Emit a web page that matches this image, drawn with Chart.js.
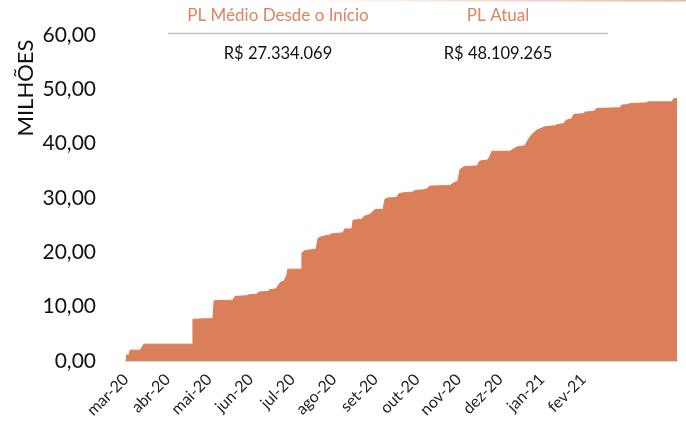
<!DOCTYPE html>
<html>
<head>
<meta charset="utf-8">
<script src="https://cdn.jsdelivr.net/npm/chart.js@4/dist/chart.umd.min.js"></script>
<style>
  html, body { margin: 0; padding: 0; background: #fff; }
  #wrap { width: 686px; height: 425px; position: relative; }
</style>
</head>
<body>
<div id="wrap"><canvas id="chart" width="686" height="425"></canvas></div>
<script>
// month labels on the x axis
const months = ['mar-20','abr-20','mai-20','jun-20','jul-20','ago-20','set-20','out-20','nov-20','dez-20','jan-21','fev-21']

// position in months since mar-20, and PL in millions
const t = [0, 0.07, 0.10, 0.34, 0.43, 1.59, 1.61, 2.09, 2.12, 2.57, 2.62, 2.91, 2.96, 3.15, 3.20, 3.41,
  3.46, 3.61, 3.65, 3.73, 3.80, 3.87, 3.89, 4.21, 4.23, 4.30, 4.57, 4.62, 4.71, 4.90, 4.95, 5.22,
  5.26, 5.43, 5.46, 5.67, 5.72, 5.87, 5.99, 6.18, 6.23, 6.30, 6.51, 6.56, 6.71, 6.90, 6.95, 7.16,
  7.24, 7.31, 7.79, 7.91, 7.98, 8.03, 8.13, 8.44, 8.51, 8.70, 8.75, 8.80, 9.23, 9.40, 9.59, 9.66,
  9.76, 9.88, 10.07, 10.31, 10.36, 10.53, 10.58, 10.72, 10.77, 10.99, 11.03, 11.27, 11.32, 11.88,
  11.92, 12.07, 12.12, 12.50, 12.55, 13.13, 13.17, 13.25]
const pl = [1.1, 1.1, 2.0, 2.0, 3.1, 3.1, 7.7, 7.8, 11.1, 11.2, 11.9, 12.0, 12.2, 12.3, 12.7, 12.8,
  13.1, 13.3, 13.8, 14.6, 14.7, 15.9, 16.9, 16.9, 19.9, 20.3, 20.6, 22.6, 22.9, 23.2, 23.4, 23.6,
  24.3, 24.3, 25.9, 26.1, 26.6, 27.0, 27.9, 27.9, 29.8, 30.0, 30.1, 30.8, 31.0, 31.1, 31.4, 31.5,
  31.7, 32.2, 32.3, 32.9, 33.1, 35.2, 35.8, 35.9, 36.8, 37.0, 37.7, 38.6, 38.6, 39.4, 39.6, 40.6,
  41.7, 42.5, 43.1, 43.3, 43.5, 43.7, 44.3, 44.6, 45.4, 45.5, 45.8, 46.0, 46.5, 46.6,
  47.1, 47.2, 47.4, 47.5, 47.7, 47.7, 48.3, 48.3]

// summary box on top
const headers = ['PL Médio Desde o Início', 'PL Atual']
const summary = ['R$ 27.334.069', 'R$ 48.109.265']

const orange = '#DB7E5A'
const font = 'Lato, "Open Sans", sans-serif'

// draws the axis title and the little table above the plot
const extras = {
  id: 'extras',
  afterDraw(chart) {
    const ctx = chart.ctx

    // faint border line at the very top
    ctx.save()
    let g = ctx.createLinearGradient(300, 0, 686, 0)
    g.addColorStop(0, 'rgba(232,150,118,0)')
    g.addColorStop(1, 'rgba(232,150,118,0.7)')
    ctx.strokeStyle = g
    ctx.lineWidth = 1.5
    ctx.beginPath()
    ctx.moveTo(300, 0.75)
    ctx.lineTo(686, 0.75)
    ctx.stroke()
    ctx.restore()

    ctx.save()
    ctx.fillStyle = '#111'
    ctx.font = '22px ' + font
    ctx.translate(26, 88)
    ctx.rotate(-Math.PI / 2)
    ctx.textAlign = 'center'
    ctx.textBaseline = 'middle'
    ctx.fillText('MILHÕES', 0, 0)
    ctx.restore()

    ctx.save()
    const cols = [278, 498]
    ctx.textAlign = 'center'
    ctx.textBaseline = 'middle'
    ctx.font = '17px ' + font
    ctx.fillStyle = '#E0845F'
    headers.forEach((h, i) => ctx.fillText(h, cols[i], 16))
    ctx.strokeStyle = '#c4c4c4'
    ctx.lineWidth = 1.5
    ctx.beginPath()
    ctx.moveTo(168, 33.5)
    ctx.lineTo(608, 33.5)
    ctx.stroke()
    ctx.fillStyle = '#111'
    ctx.font = '16.5px ' + font
    summary.forEach((s, i) => ctx.fillText(s, cols[i], 54))
    ctx.restore()
  }
}

new Chart(document.getElementById('chart'), {
  type: 'line',
  data: {
    datasets: [{
      data: t.map((x, i) => ({ x: x, y: pl[i] })),
      borderColor: orange,
      borderWidth: 1,
      backgroundColor: orange,
      fill: 'origin',
      pointRadius: 0,
      tension: 0
    }]
  },
  options: {
    responsive: false,
    animation: false,
    layout: { padding: { top: 35, right: 9, left: 0, bottom: 0 } },
    plugins: { legend: { display: false }, tooltip: { enabled: false } },
    scales: {
      x: {
        type: 'linear',
        min: 0,
        max: t[t.length - 1],
        afterBuildTicks: (scale) => { scale.ticks = months.map((m, i) => ({ value: i })) },
        afterFit: (scale) => { scale.height = 64 },
        ticks: {
          autoSkip: false,
          minRotation: 45,
          maxRotation: 45,
          color: '#222',
          font: { family: font, size: 16 },
          padding: 1,
          callback: (v) => months[v]
        },
        grid: { display: false },
        border: { display: true, color: '#d9d9d9', width: 2 }
      },
      y: {
        min: 0,
        max: 60,
        afterFit: (scale) => { scale.width = 126 },
        ticks: {
          stepSize: 10,
          color: '#111',
          font: { family: font, size: 21 },
          padding: 22,
          callback: (v) => v.toFixed(2).replace('.', ',')
        },
        grid: { display: false },
        border: { display: false }
      }
    }
  },
  plugins: [extras]
})
</script>
</body>
</html>
